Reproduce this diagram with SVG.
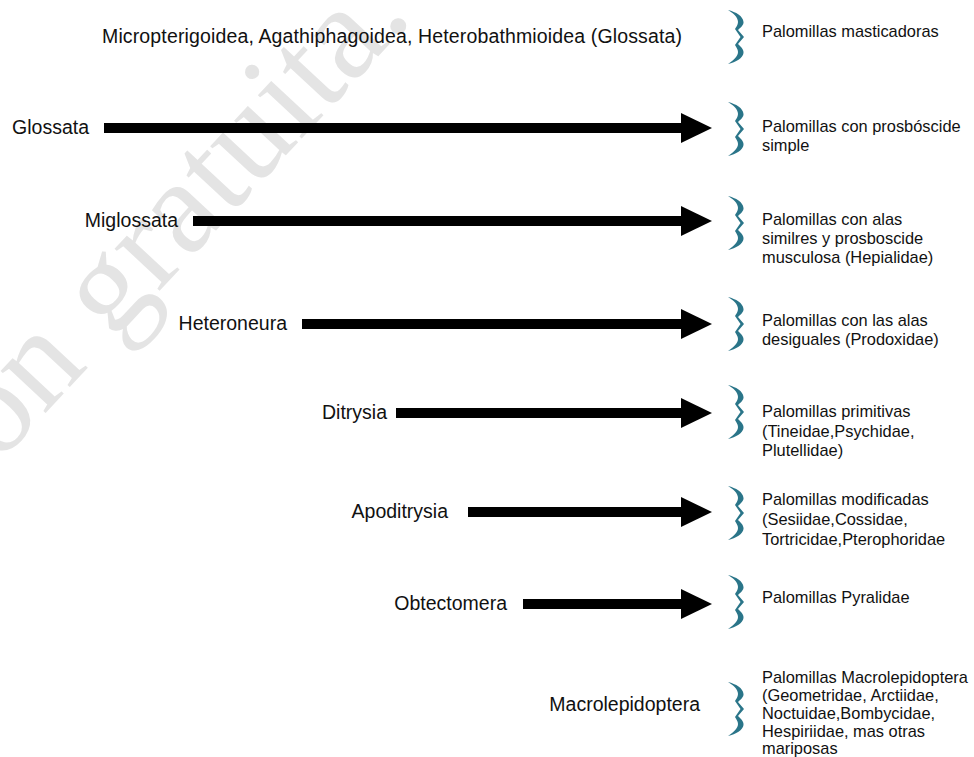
<svg xmlns="http://www.w3.org/2000/svg" width="974" height="757" viewBox="0 0 974 757">
  <defs>
    <style>
      .lbl { font-family: "Liberation Sans", Arial, sans-serif; font-size: 19.5px; fill: #111; }
      .desc { font-family: "Liberation Sans", Arial, sans-serif; font-size: 16.4px; fill: #111; }
      .wm { font-family: "Liberation Serif", "Times New Roman", serif; font-size: 134px; fill: #e4e4e4; }
      .brace { fill: #2a7589; }
      .shaft { stroke: #000; stroke-width: 10; fill: none; }
    </style>
    <marker id="head" markerUnits="userSpaceOnUse" markerWidth="32" markerHeight="30" refX="0" refY="15" viewBox="0 0 32 30" orient="auto">
      <path d="M0,0 L31,15 L0,30 Z" fill="#000"/>
    </marker>
    <path id="br" d="M0,0 C8,2 15,6 15.5,12 C16,15 12,18 10,20 L16,27 L10,34 C12,36 16,39 15.5,43 C15,48 8,52 0,54 C6,50 10,46 10,42 C10,39 8,37 7,35 L12.5,27 L7,19 C8,17 10,15 10,12 C10,7 5,3 0,0 Z"/>
  </defs>

  <rect width="974" height="757" fill="#fff"/>

  <text class="wm" transform="translate(414,18) rotate(-47)" text-anchor="end">ón gratuita.</text>

  <g id="connectors">
    <line class="shaft" x1="104" y1="128" x2="681" y2="128" marker-end="url(#head)"/>
    <line class="shaft" x1="193" y1="221" x2="681" y2="221" marker-end="url(#head)"/>
    <line class="shaft" x1="302" y1="324" x2="681" y2="324" marker-end="url(#head)"/>
    <line class="shaft" x1="396" y1="413" x2="681" y2="413" marker-end="url(#head)"/>
    <line class="shaft" x1="468" y1="512" x2="681" y2="512" marker-end="url(#head)"/>
    <line class="shaft" x1="523" y1="604" x2="681" y2="604" marker-end="url(#head)"/>
  </g>

  <g id="node-top">
    <text class="lbl" x="102" y="43" textLength="580" lengthAdjust="spacing">Micropterigoidea, Agathiphagoidea, Heterobathmioidea (Glossata)</text>
  </g>
  <g id="node-glossata"><text class="lbl" x="89" y="134" text-anchor="end">Glossata</text></g>
  <g id="node-miglossata"><text class="lbl" x="178" y="227" text-anchor="end">Miglossata</text></g>
  <g id="node-heteroneura"><text class="lbl" x="287" y="330" text-anchor="end">Heteroneura</text></g>
  <g id="node-ditrysia"><text class="lbl" x="387" y="419" text-anchor="end">Ditrysia</text></g>
  <g id="node-apoditrysia"><text class="lbl" x="448" y="518" text-anchor="end">Apoditrysia</text></g>
  <g id="node-obtectomera"><text class="lbl" x="507" y="610" text-anchor="end">Obtectomera</text></g>
  <g id="node-macrolepidoptera"><text class="lbl" x="700" y="711" text-anchor="end">Macrolepidoptera</text></g>

  <g id="desc-1">
    <use href="#br" class="brace" x="728" y="10"/>
    <text class="desc" x="762" y="37">Palomillas masticadoras</text>
  </g>
  <g id="desc-2">
    <use href="#br" class="brace" x="728" y="102"/>
    <text class="desc" x="762" y="132">Palomillas con prosbóscide<tspan x="762" y="151">simple</tspan></text>
  </g>
  <g id="desc-3">
    <use href="#br" class="brace" x="728" y="196"/>
    <text class="desc" x="762" y="225">Palomillas con alas<tspan x="762" y="244">similres y prosboscide</tspan><tspan x="762" y="263">musculosa (Hepialidae)</tspan></text>
  </g>
  <g id="desc-4">
    <use href="#br" class="brace" x="728" y="297"/>
    <text class="desc" x="762" y="326">Palomillas con las alas<tspan x="762" y="345">desiguales (Prodoxidae)</tspan></text>
  </g>
  <g id="desc-5">
    <use href="#br" class="brace" x="728" y="385"/>
    <text class="desc" x="762" y="417">Palomillas primitivas<tspan x="762" y="437">(Tineidae,Psychidae,</tspan><tspan x="762" y="456">Plutellidae)</tspan></text>
  </g>
  <g id="desc-6">
    <use href="#br" class="brace" x="728" y="486"/>
    <text class="desc" x="762" y="505">Palomillas modificadas<tspan x="762" y="525">(Sesiidae,Cossidae,</tspan><tspan x="762" y="545">Tortricidae,Pterophoridae</tspan></text>
  </g>
  <g id="desc-7">
    <use href="#br" class="brace" x="728" y="575"/>
    <text class="desc" x="762" y="603">Palomillas Pyralidae</text>
  </g>
  <g id="desc-8">
    <use href="#br" class="brace" x="728" y="682"/>
    <text class="desc" x="762" y="683">Palomillas Macrolepidoptera<tspan x="762" y="701">(Geometridae, Arctiidae,</tspan><tspan x="762" y="719">Noctuidae,Bombycidae,</tspan><tspan x="762" y="737">Hespiriidae, mas otras</tspan><tspan x="762" y="754">mariposas</tspan></text>
  </g>
</svg>
